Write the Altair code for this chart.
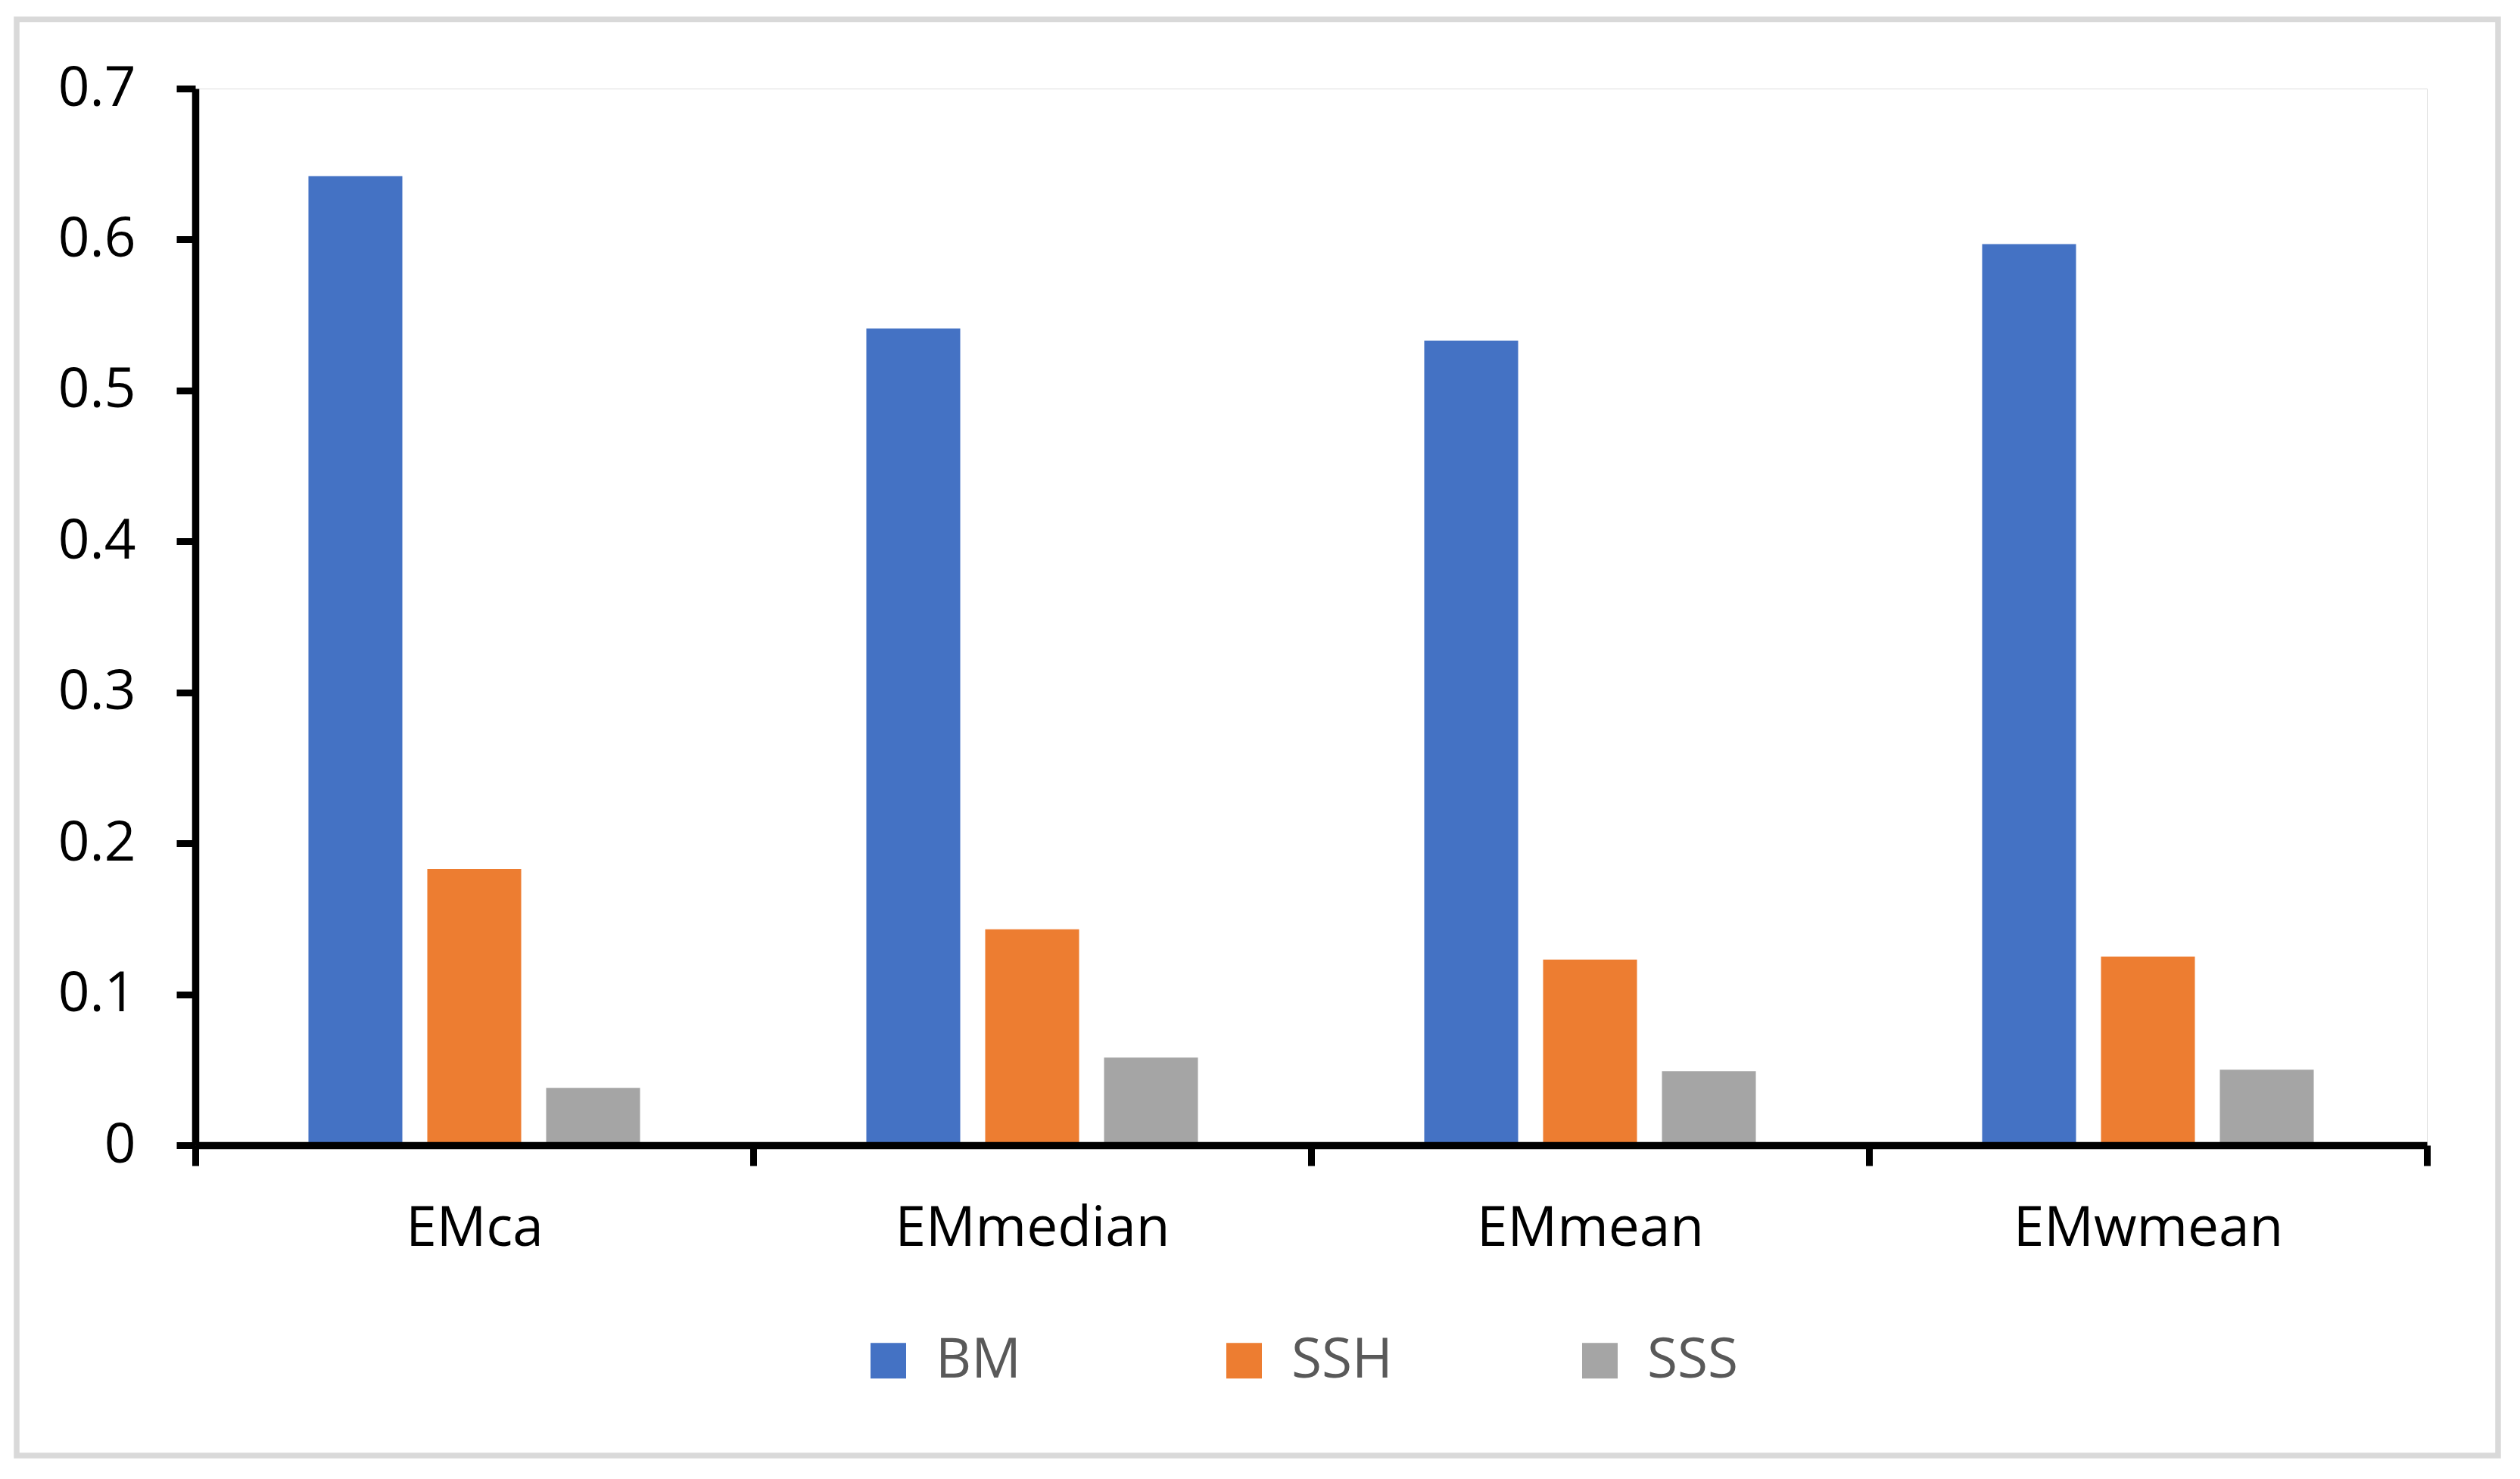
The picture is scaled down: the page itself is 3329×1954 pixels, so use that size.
import altair as alt
import pandas as pd

categories = ["EMca", "EMmedian", "EMmean", "EMwmean"]
series = ["BM", "SSH", "SSS"]
bm = [0.642, 0.541, 0.533, 0.597]
ssh = [0.183, 0.143, 0.123, 0.125]
sss = [0.038, 0.058, 0.049, 0.050]
y_ticks = [0, 0.1, 0.2, 0.3, 0.4, 0.5, 0.6, 0.7]
colors = ["#4472C4", "#ED7D31", "#A5A5A5"]

rows = []
for name, vals in zip(series, [bm, ssh, sss]):
    for c, v in zip(categories, vals):
        rows.append({"method": c, "series": name, "value": v})
df = pd.DataFrame(rows)

W = 2948
H = 1396
FONT = "Open Sans"

border = alt.Chart(pd.DataFrame({"k": [0]})).mark_rect(
    fillOpacity=0, stroke="#D9D9D9", strokeWidth=7.5
).encode(
    x=alt.value(-236), x2=alt.value(3042), y=alt.value(-91.5), y2=alt.value(1806)
)

bars = alt.Chart(df).mark_bar().encode(
    x=alt.X(
        "method:N", sort=categories,
        scale=alt.Scale(paddingInner=0, paddingOuter=0),
        axis=alt.Axis(
            title=None, labelAngle=0, tickBand="extent", grid=False,
            domainColor="black", domainWidth=9.5,
            tickColor="black", tickWidth=9, tickSize=27,
            labelFont=FONT, labelFontSize=73, labelColor="black",
            labelPadding=105, labelBaseline="alphabetic", labelLimit=2000,
            zindex=1,
        ),
    ),
    xOffset=alt.XOffset(
        "series:N", sort=series,
        scale=alt.Scale(paddingInner=0.21, paddingOuter=0.952),
    ),
    y=alt.Y(
        "value:Q",
        scale=alt.Scale(domain=[0, 0.7], nice=False),
        axis=alt.Axis(
            values=y_ticks, format="~g", title=None, grid=False,
            domainColor="black", domainWidth=9.5,
            tickColor="black", tickWidth=9, tickSize=25,
            labelFont=FONT, labelFontSize=73, labelColor="black",
            labelPadding=54, zindex=1,
        ),
    ),
    color=alt.Color(
        "series:N", sort=series,
        scale=alt.Scale(domain=series, range=colors),
        legend=alt.Legend(
            title=None, orient="none", legendX=879, legendY=1644,
            direction="horizontal", symbolType="square", symbolSize=2209,
            symbolStrokeWidth=0, labelFont=FONT, labelFontSize=73,
            labelColor="#595959", labelOffset=26, columnPadding=237,
            gridAlign="all", padding=0, labelLimit=2000,
        ),
    ),
)

chart = alt.layer(border, bars).properties(
    width=W, height=H,
    padding={"left": 250, "top": 109, "right": 115, "bottom": 420},
    autosize=alt.AutoSizeParams(type="none"),
).configure_view(
    strokeWidth=2, stroke="white", fill="white"
).configure(font=FONT, background="white")

chart.save("out.html", embed_options={"renderer": "svg", "actions": False})
